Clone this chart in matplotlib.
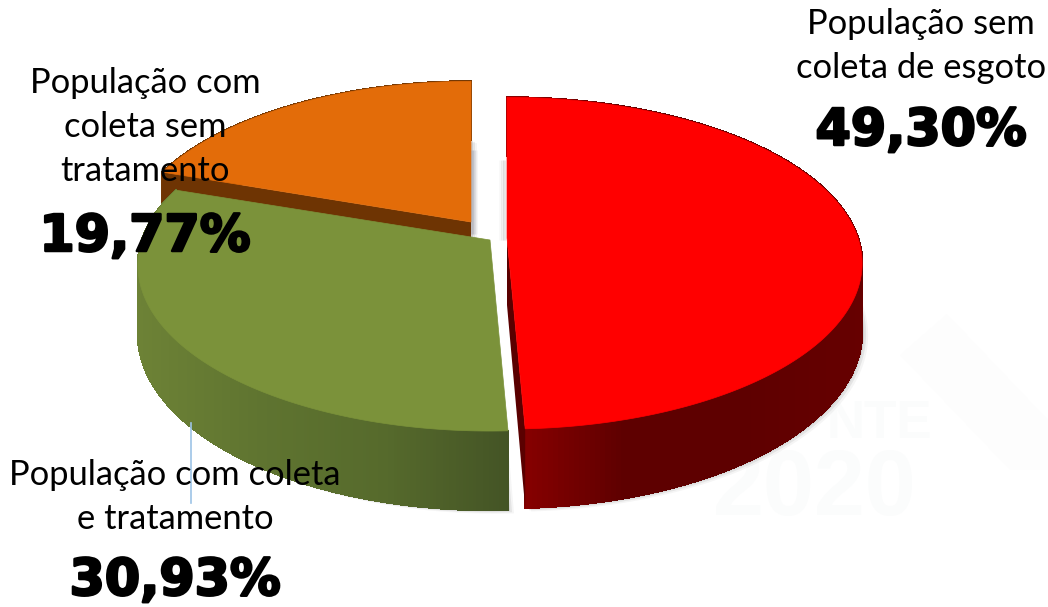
import numpy as np
import matplotlib
matplotlib.use("Agg")
import matplotlib.pyplot as plt
import matplotlib.patheffects as pe
from matplotlib.patches import Polygon
from matplotlib.colors import to_rgb

# dados
rotulos = ["População sem\ncoleta de esgoto", "População com coleta\ne tratamento", "População com\ncoleta sem\ntratamento"]
valores = [49.30, 30.93, 19.77]
textos_pct = ["49,30%", "30,93%", "19,77%"]

# centro de cada fatia (explodida), cores do topo e da parede
centros = [(507, 238), (490, 240), (471, 222)]
raio_x = [351, 348, 342]
cor_topo = ["#FF0000", "#7B923A", "#E36C09"]
cor_parede = [["#8E0000", "#5E0000", "#5E0000", "#660000"],
              ["#6D8236", "#5F7430", "#566A2C", "#445425"],
              ["#743804", "#743804", "#743804", "#743804"]]
cor_corte = ["#5A0000", "#445425", "#6E3403"]

RAIO_Y = 162
PERSP = 0.152
ALTURA = 67


def projeta(cx, cy, ax_r, theta):
    # angulo em graus, horario a partir do topo, com perspectiva
    t = np.radians(theta)
    v = -np.cos(t)
    s = 1 / (1 - PERSP * v)
    return cx + ax_r * np.sin(t) * s, cy + RAIO_Y * v * s, s


def cor_gradiente(paradas, f):
    rgb = np.array([to_rgb(c) for c in paradas])
    pos = np.linspace(0, 1, len(paradas))
    return [np.interp(f, pos, rgb[:, k]) for k in range(3)]


fig = plt.figure(figsize=(10.48, 6.07), dpi=100)
ax = fig.add_axes([0, 0, 1, 1])
ax.set_xlim(0, 1048)
ax.set_ylim(607, 0)
ax.axis("off")

# marca d'agua bem clara no fundo
ax.add_patch(Polygon([(900, 355), (947, 314), (1048, 420), (1048, 470), (1010, 470)], closed=True, fc="#FDFDFD", ec="none", zorder=0))
ax.text(932, 438, "NTE", fontsize=38, fontweight="bold", color="#FBFCFC", ha="right", va="baseline", family="Liberation Sans", zorder=0)
ax.text(815, 515, "2020", fontsize=66, fontweight="bold", color="#FBFCFC", ha="center", va="baseline", family="Liberation Sans", zorder=0)

# sombras finas junto aos cortes do fundo
for dx, alfa in [(1, 0.30), (3, 0.18), (5, 0.08)]:
    ax.plot([471 + dx, 471 + dx], [150, 234], color="#8A8A9A", lw=2, alpha=alfa, solid_capstyle="butt")
    ax.plot([505 - dx, 505 - dx], [160, 240], color="#8A8A8A", lw=2, alpha=alfa * 0.7, solid_capstyle="butt")

# limites angulares a partir dos valores
fim = np.cumsum(valores) * 3.6
inicio = np.concatenate([[0], fim[:-1]])

# desenha de tras para frente: laranja, verde, vermelho
for i in [2, 1, 0]:
    cx, cy = centros[i]
    a = raio_x[i]
    th = np.linspace(inicio[i], fim[i], 240)
    x, y, s = projeta(cx, cy, a, th)
    yb = y + ALTURA * s

    # sombra suave da parede
    for off, alfa in [(6, 0.06), (4, 0.10), (2, 0.14)]:
        ax.add_patch(Polygon(np.column_stack([np.r_[x + off, cx + off], np.r_[yb + off * 0.6, cy + ALTURA]]),
                             closed=True, fc="#555555", ec="none", alpha=alfa))

    # parede externa em tiras, sem antialias para nao listrar
    xmin, xmax = x.min(), x.max()
    for k in range(len(th) - 1):
        f = (x[k] - xmin) / (xmax - xmin)
        c = cor_gradiente(cor_parede[i], f)
        ax.add_patch(Polygon([(x[k], y[k]), (x[k + 1], y[k + 1]), (x[k + 1], yb[k + 1]), (x[k], yb[k])],
                             closed=True, fc=c, ec=c, lw=1.0, antialiased=False))

    # paredes do corte
    if i == 0:
        ax.add_patch(Polygon([(cx, cy), (x[-1], y[-1]), (x[-1], yb[-1]), (cx, cy + ALTURA)], closed=True, fc=cor_corte[0], ec="none"))
    if i == 2:
        ax.add_patch(Polygon([(cx, cy), (x[0], y[0]), (x[0], yb[0]), (cx, cy + ALTURA)], closed=True, fc=cor_corte[2], ec="none"))

    # topo
    ax.add_patch(Polygon(np.column_stack([np.r_[cx, x], np.r_[cy, y]]), closed=True, fc=cor_topo[i], ec=cor_topo[i], lw=0.5))

# linha de chamada
ax.plot([191, 191], [423, 503], color="#9DC3E6", lw=1.2)

fonte = "Lato"
tam = 24.8
esp = 1.45
ax.text(921, 46, rotulos[0], fontsize=tam, family=fonte, ha="center", va="center", linespacing=esp, color="black")
ax.text(175, 497, rotulos[1], fontsize=tam, family=fonte, ha="center", va="center", linespacing=esp, color="black")
ax.text(145, 127, rotulos[2], fontsize=tam, family=fonte, ha="center", va="center", linespacing=esp, color="black")

grosso = [pe.withStroke(linewidth=1.8, foreground="black")]
for px, py, t in [(921, 131, textos_pct[0]), (175, 581, textos_pct[1]), (145, 237, textos_pct[2])]:
    ax.text(px, py, t, fontsize=36.5, fontweight="bold", family="DejaVu Sans", ha="center", va="center", color="black", path_effects=grosso)

fig.savefig("out.png", dpi=100)
